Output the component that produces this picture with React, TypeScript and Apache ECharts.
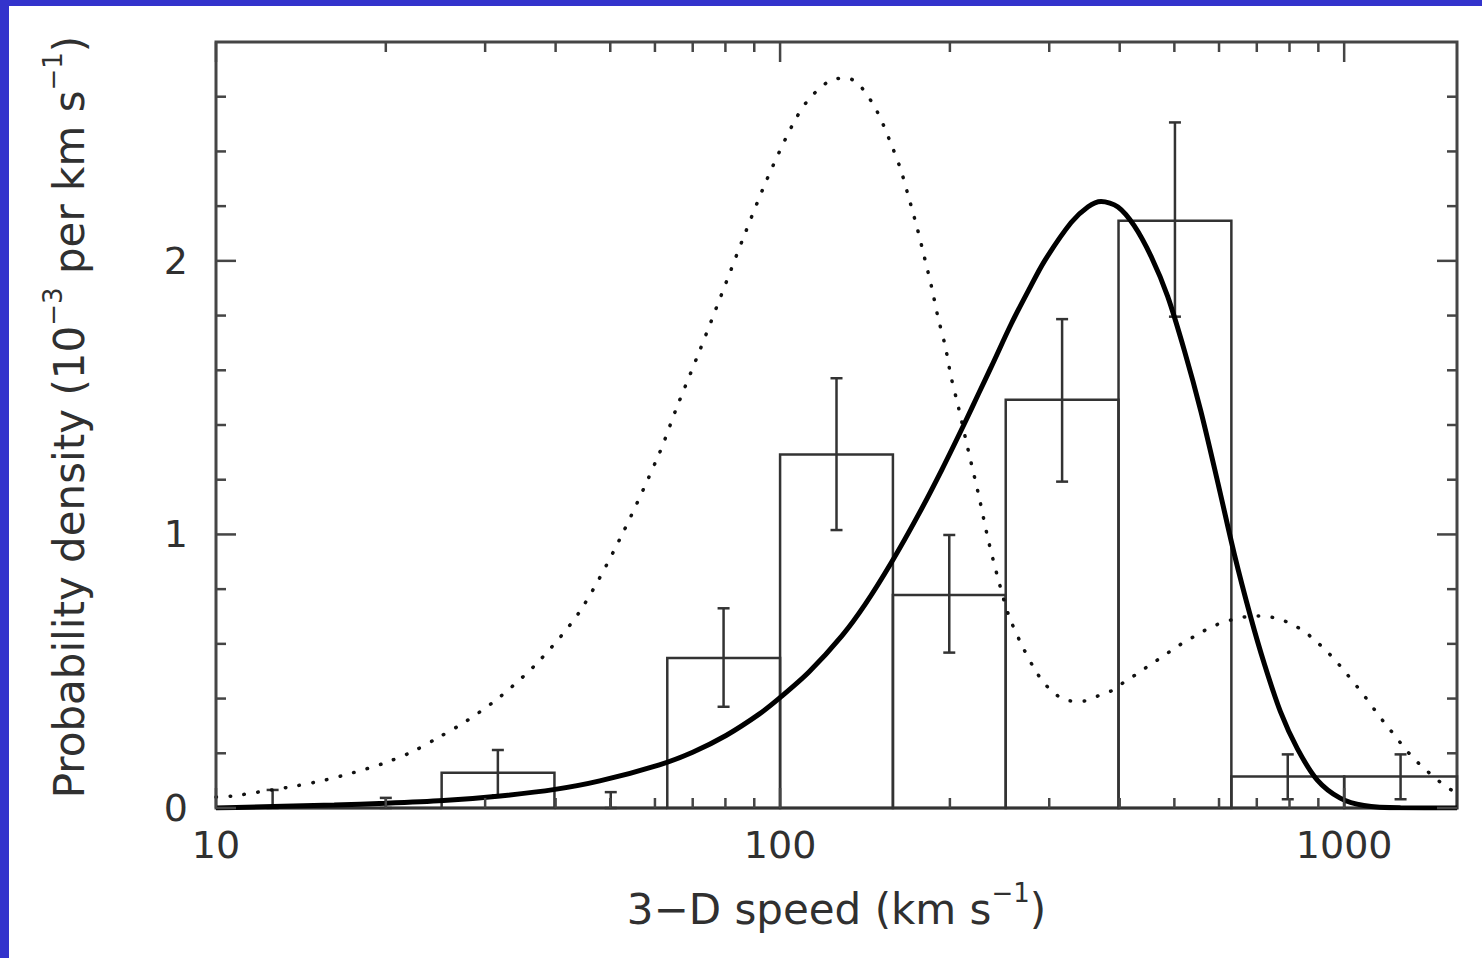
import React, { useEffect, useRef } from 'react';
import * as echarts from 'echarts';

// ---- axis extents & ticks ----
const X_MIN = 10;
const X_MAX = 1585;
const Y_MIN = 0;
const Y_MAX = 2.8;
const xTickLabels = [10, 100, 1000];
const yTickLabels = [0, 1, 2];
const xMinorTicks = [20, 30, 40, 50, 60, 70, 80, 90, 200, 300, 400, 500, 600, 700, 800, 900];
const yMinorTicks = [0.2, 0.4, 0.6, 0.8, 1.2, 1.4, 1.6, 1.8, 2.2, 2.4, 2.6];

// ---- histogram (km/s bin edges, density) ----
const binEdges = [10, 15.85, 25.12, 39.81, 63.1, 100, 158.5, 251.2, 398.1, 631.0, 1000, 1585];
const binHeights = [0, 0, 0.129, 0, 0.548, 1.292, 0.779, 1.492, 2.147, 0.115, 0.115];

// ---- error bars ----
const errX = [12.6, 20.0, 31.6, 50.1, 79.4, 125.9, 199.5, 316.2, 501.2, 794.3, 1258.9];
const errLow = [0, 0, 0.046, 0, 0.37, 1.016, 0.568, 1.193, 1.796, 0.032, 0.032];
const errHigh = [0.066, 0.037, 0.212, 0.058, 0.73, 1.571, 0.998, 1.787, 2.506, 0.196, 0.196];

// ---- dotted model curve ----
const dottedX = [10, 10.7, 12.2, 13.8, 15.6, 17.5, 19.8, 22.3, 24.8, 27.7, 31.9, 37.5, 44.2, 51.9, 61.1, 65.5, 71.9, 78.7, 86.1, 94.6, 105.2, 112.5, 123.6, 131.5, 139.0, 148.6, 156.3, 163.3, 169.0, 175.0, 180.3, 185.8, 190.5, 196.3, 200.9, 207.0, 215.8, 224.9, 233.9, 243.8, 254.1, 267.9, 283.1, 294.4, 306.9, 324.3, 344.4, 366.4, 389.0, 408.3, 430.5, 453.9, 478.6, 503.5, 532.1, 561.0, 592.9, 629.5, 669.9, 711.2, 756.8, 801.7, 847.2, 889.2, 933.3, 972.8, 1011.6, 1052, 1094, 1135, 1180, 1225, 1274, 1327, 1393, 1459, 1531, 1585];
const dottedY = [0.040, 0.044, 0.062, 0.080, 0.102, 0.129, 0.163, 0.206, 0.258, 0.316, 0.407, 0.54, 0.72, 0.98, 1.297, 1.461, 1.668, 1.876, 2.085, 2.294, 2.497, 2.591, 2.662, 2.668, 2.637, 2.546, 2.442, 2.339, 2.233, 2.120, 2.012, 1.900, 1.794, 1.687, 1.577, 1.467, 1.303, 1.144, 0.980, 0.834, 0.706, 0.598, 0.505, 0.455, 0.418, 0.392, 0.391, 0.410, 0.431, 0.462, 0.492, 0.525, 0.556, 0.588, 0.617, 0.645, 0.669, 0.687, 0.699, 0.702, 0.694, 0.675, 0.647, 0.612, 0.571, 0.531, 0.489, 0.446, 0.401, 0.356, 0.310, 0.269, 0.224, 0.182, 0.141, 0.105, 0.072, 0.055];

// ---- solid model curve ----
const solidX = [10, 16.2, 20, 25.3, 31.9, 39.9, 47.9, 61.1, 70.0, 80.2, 91.8, 100.2, 112.5, 128.8, 141.6, 157.8, 176.2, 193.6, 212.8, 224.9, 237.1, 257.0, 275.4, 294.4, 328.1, 351.6, 370.7, 397.2, 424.6, 455.0, 486.5, 521.2, 557.2, 597.0, 638.3, 682.3, 721.1, 770.9, 826.0, 895.4, 984.0, 1083.9, 1258.9, 1585];
const solidY = [0, 0.011, 0.017, 0.027, 0.044, 0.068, 0.099, 0.158, 0.204, 0.265, 0.343, 0.405, 0.497, 0.63, 0.745, 0.90, 1.075, 1.237, 1.41, 1.515, 1.615, 1.77, 1.89, 2.0, 2.14, 2.198, 2.217, 2.197, 2.128, 2.015, 1.87, 1.67, 1.45, 1.19, 0.93, 0.70, 0.53, 0.352, 0.217, 0.103, 0.036, 0.009, 0.0005, 0];

const FONT = 'DejaVu Sans';
const TEXT = '#303030';
const AXIS = '#454545';
const BAR = '#333333';

const near = (v: number, list: number[]) => list.find((t) => Math.abs(v - t) < 1e-6 * Math.max(1, Math.abs(t)));

function xTickSeries(vals: number[], len: number) {
  return {
    type: 'custom',
    silent: true,
    z: 6,
    data: vals.map((v) => [v, Y_MIN]),
    encode: { x: 0, y: 1 },
    renderItem: (_p: any, api: any) => {
      const v = api.value(0);
      const b = api.coord([v, Y_MIN]);
      const t = api.coord([v, Y_MAX]);
      return {
        type: 'group',
        children: [
          { type: 'line', shape: { x1: b[0], y1: b[1], x2: b[0], y2: b[1] - len }, style: { stroke: AXIS, lineWidth: 2.5 } },
          { type: 'line', shape: { x1: t[0], y1: t[1], x2: t[0], y2: t[1] + len }, style: { stroke: AXIS, lineWidth: 2.5 } },
        ],
      };
    },
  };
}

function yTickSeries(vals: number[], len: number) {
  return {
    type: 'custom',
    silent: true,
    z: 6,
    data: vals.map((v) => [X_MIN, v]),
    encode: { x: 0, y: 1 },
    renderItem: (_p: any, api: any) => {
      const v = api.value(1);
      const l = api.coord([X_MIN, v]);
      const r = api.coord([X_MAX, v]);
      return {
        type: 'group',
        children: [
          { type: 'line', shape: { x1: l[0], y1: l[1], x2: l[0] + len, y2: l[1] }, style: { stroke: AXIS, lineWidth: 2.5 } },
          { type: 'line', shape: { x1: r[0], y1: r[1], x2: r[0] - len, y2: r[1] }, style: { stroke: AXIS, lineWidth: 2.5 } },
        ],
      };
    },
  };
}

export default function App() {
  const ref = useRef<HTMLDivElement>(null);

  useEffect(() => {
    if (!ref.current) return;
    const chart = echarts.init(ref.current, undefined, { renderer: 'svg' });

    const barData = binHeights.map((h, i) => [binEdges[i], binEdges[i + 1], h]);
    const errData = errX.map((x, i) => [x, errLow[i], errHigh[i]]);
    const dottedData = dottedX.map((x, i) => [x, dottedY[i]]);
    const solidData = solidX.map((x, i) => [x, solidY[i]]);

    const richBase = {
      a: { fontFamily: FONT, fontSize: 42, color: TEXT, lineHeight: 50, verticalAlign: 'bottom' },
      s: { fontFamily: FONT, fontSize: 26, color: TEXT, lineHeight: 26, verticalAlign: 'top' },
    };

    chart.setOption({
      animation: false,
      backgroundColor: '#ffffff',
      grid: {
        left: 207,
        top: 36,
        width: 1241,
        height: 766,
        show: true,
        borderColor: AXIS,
        borderWidth: 3,
        backgroundColor: 'transparent',
      },
      xAxis: {
        type: 'log',
        logBase: 10,
        min: X_MIN,
        max: X_MAX,
        axisLine: { show: false },
        axisTick: { show: false },
        splitLine: { show: false },
        minorTick: { show: false },
        axisLabel: {
          fontFamily: FONT,
          fontSize: 38,
          color: TEXT,
          margin: 18,
          showMaxLabel: false,
          formatter: (v: number) => {
            const m = near(v, xTickLabels);
            return m === undefined ? '' : String(m);
          },
        },
        name: '{a|3−D speed (km s}{s|−1}{a|)}',
        nameLocation: 'middle',
        nameGap: 72,
        nameTextStyle: { rich: richBase },
      },
      yAxis: {
        type: 'value',
        min: Y_MIN,
        max: Y_MAX,
        interval: 1,
        axisLine: { show: false },
        axisTick: { show: false },
        splitLine: { show: false },
        axisLabel: {
          fontFamily: FONT,
          fontSize: 38,
          color: TEXT,
          margin: 28,
          formatter: (v: number) => {
            const m = near(v, yTickLabels);
            return m === undefined ? '' : String(m);
          },
        },
        name: '{a|Probability density (10}{s|−3}{a| per km s}{s|−1}{a|)}',
        nameLocation: 'middle',
        nameRotate: 90,
        nameGap: 126,
        nameTextStyle: { rich: richBase, padding: [0, 0, 0, 16] },
      },
      series: [
        {
          type: 'custom',
          name: 'histogram',
          silent: true,
          z: 2,
          data: barData,
          encode: { x: [0, 1], y: 2 },
          renderItem: (_p: any, api: any) => {
            const lo = api.value(0);
            const hi = api.value(1);
            const h = api.value(2);
            const p0 = api.coord([lo, Y_MIN]);
            const p1 = api.coord([hi, h]);
            return {
              type: 'rect',
              shape: { x: p0[0], y: p1[1], width: p1[0] - p0[0], height: p0[1] - p1[1] },
              style: { fill: 'none', stroke: BAR, lineWidth: 2.5 },
            };
          },
        },
        {
          type: 'custom',
          name: 'errors',
          silent: true,
          z: 3,
          data: errData,
          encode: { x: 0, y: [1, 2] },
          renderItem: (_p: any, api: any) => {
            const x = api.value(0);
            const lo = api.coord([x, api.value(1)]);
            const hi = api.coord([x, api.value(2)]);
            const cap = 6;
            const st = { stroke: BAR, lineWidth: 2.5 };
            return {
              type: 'group',
              children: [
                { type: 'line', shape: { x1: lo[0], y1: lo[1], x2: hi[0], y2: hi[1] }, style: st },
                { type: 'line', shape: { x1: hi[0] - cap, y1: hi[1], x2: hi[0] + cap, y2: hi[1] }, style: st },
                { type: 'line', shape: { x1: lo[0] - cap, y1: lo[1], x2: lo[0] + cap, y2: lo[1] }, style: st },
              ],
            };
          },
        },
        {
          type: 'line',
          name: 'dotted model',
          data: dottedData,
          smooth: 0.3,
          showSymbol: false,
          silent: true,
          z: 4,
          lineStyle: { color: '#111', width: 3.5, type: [0.5, 13.5], cap: 'round' },
        },
        {
          type: 'line',
          name: 'solid model',
          data: solidData,
          smooth: 0.3,
          showSymbol: false,
          silent: true,
          z: 5,
          lineStyle: { color: '#000', width: 5 },
        },
        xTickSeries(xTickLabels, 20),
        xTickSeries(xMinorTicks, 10),
        yTickSeries(yTickLabels, 20),
        yTickSeries(yMinorTicks, 10),
      ],
    });

    return () => chart.dispose();
  }, []);

  return (
    <div style={{ position: 'fixed', left: 0, top: 0, width: 1482, height: 958, background: '#3333cc' }}>
      <div ref={ref} style={{ position: 'absolute', left: 9, top: 6, width: 1473, height: 952, background: '#ffffff' }} />
    </div>
  );
}
